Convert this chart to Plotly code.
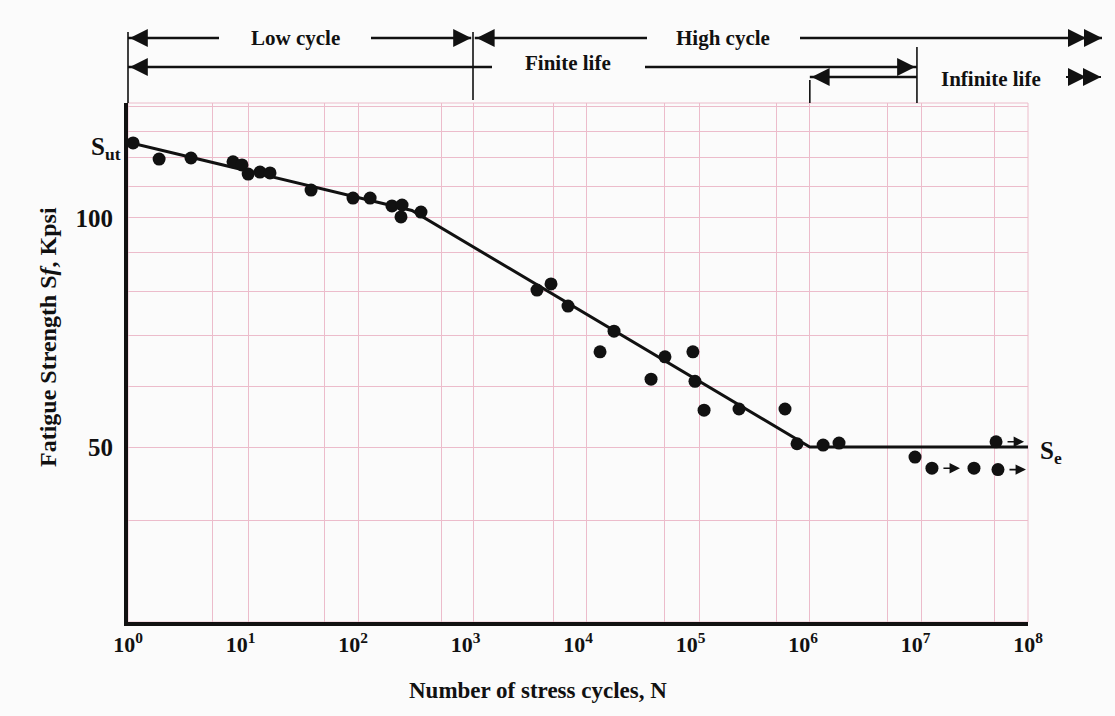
import numpy as np
import plotly.graph_objects as go

# Test results: cycles to failure and fatigue strength (kpsi)
cycles = [1.11, 1.89, 3.63, 8.58, 10.3, 11.7, 14.9, 18.3, 42.4, 100, 142,
          222, 273, 267, 402, 4320, 5755, 8150, 20900, 15700, 59300, 105000,
          44600, 109600, 132000, 270000, 692000, 885000, 1.51e6, 2.09e6,
          9.9e6, 1.40e7, 3.31e7, 5.41e7, 5.2e7]
strength = [125.5, 119.5, 119.9, 118.5, 117.4, 114.2, 114.9, 114.6, 108.8, 106.2, 106.2,
            103.7, 104.0, 100.3, 101.8, 80.4, 81.9, 76.6, 71.0, 66.7, 65.7, 66.7,
            61.4, 61.0, 55.9, 56.1, 56.1, 50.5, 50.3, 50.6,
            48.5, 46.9, 46.9, 46.7, 50.8]
# specimens that did not fail (run-outs)
runout_cycles = [1.40e7, 5.41e7, 5.2e7]
runout_strength = [46.9, 46.7, 50.8]

# idealised S-N curve
curve_cycles = [1, 334, 1.15e6, 1e8]
curve_strength = [125.8, 102.3, 50, 50]
S_ut = curve_strength[0]
S_e = curve_strength[-1]

x_tick_vals = [10 ** k for k in range(9)]
x_tick_text = [f"10<sup>{k}</sup>" for k in range(9)]
y_tick_vals = [50, 100]
y_tick_text = ["50", "100"]

x_grid = [5.58, 11.7, 55.3, 111, 618, 1166, 5997, 12020, 59300, 1.19e5,
          5.87e5, 1.15e6, 5.58e6, 1.12e7, 4.99e7, 1e8]
y_grid = [40, 60, 70, 80, 90, 110, 120, 130, 140]

# regime boundaries (cycles)
N_low_high = 1166
N_infinite = 1.15e6
N_finite_end = 1.03e7

W, H = 1115, 716
ML, MR, MT, MB = 128, 87, 103, 94
PW, PH = W - ML - MR, H - MT - MB

GRID = "#ecbccb"
INK = "#111111"
FONT = "Liberation Serif"


def xn(n):
    """paper x for a cycle count"""
    return np.log10(n) / 8.0


def xp(p):
    """paper x for a page column"""
    return (p - ML) / PW


def yp(p):
    """paper y for a page row"""
    return (MT + PH - p) / PH


fig = go.Figure()

fig.add_trace(go.Scatter(
    x=curve_cycles, y=curve_strength, mode="lines",
    line=dict(color=INK, width=3), hoverinfo="skip", showlegend=False))

fig.add_trace(go.Scatter(
    x=cycles, y=strength, mode="markers",
    marker=dict(color=INK, size=13), showlegend=False, cliponaxis=False))

shapes = []
annotations = []

# plot frame (pink on top and right)
shapes.append(dict(type="rect", xref="paper", yref="paper", x0=0, x1=1, y0=0, y1=1,
                   line=dict(color=GRID, width=1), layer="below"))

# run-out arrows
for n, s in zip(runout_cycles, runout_strength):
    annotations.append(dict(x=np.log10(n), y=np.log10(s), xref="x", yref="y", text="",
                            showarrow=True, ax=-18, ay=0, xshift=28, arrowhead=2,
                            arrowsize=1.3, arrowwidth=1.6, arrowcolor=INK))


def hline(x0, x1, y, w=2.4):
    shapes.append(dict(type="line", xref="paper", yref="paper", x0=x0, x1=x1,
                       y0=y, y1=y, line=dict(color=INK, width=w)))


def vline(x, y0, y1, w=1.6):
    shapes.append(dict(type="line", xref="paper", yref="paper", x0=x, x1=x,
                       y0=y0, y1=y1, line=dict(color=INK, width=w)))


def head(x, y, direction):
    annotations.append(dict(x=x, y=y, xref="paper", yref="paper", text="",
                            showarrow=True, ax=-10 * direction, ay=0, arrowhead=2,
                            arrowsize=1.5, arrowwidth=2.4, arrowcolor=INK))


def label(x, y, txt, size=21, angle=0):
    annotations.append(dict(x=x, y=y, xref="paper", yref="paper", text=f"<b>{txt}</b>",
                            showarrow=False, xanchor="center", yanchor="middle",
                            textangle=angle,
                            font=dict(family=FONT, size=size, color=INK)))


r1, r2, r3 = yp(38), yp(67), yp(77)

# boundary ticks
vline(xn(1), yp(32), 1)
vline(xn(N_low_high), yp(32), yp(100))
vline(xn(N_finite_end), yp(47), 1)
vline(xn(N_infinite), yp(80), 1)

# row 1: low cycle / high cycle
hline(xn(1), xp(219), r1)
head(xn(1) + 0.002, r1, -1)
label(xp(295), r1, "Low cycle")
hline(xp(371), xn(N_low_high) - 0.002, r1)
head(xn(N_low_high) - 0.002, r1, 1)
hline(xn(N_low_high) + 0.002, xp(647), r1)
head(xn(N_low_high) + 0.004, r1, -1)
label(xp(723), r1, "High cycle")
hline(xp(800), xp(1102), r1)
head(xp(1086), r1, 1)
head(xp(1102), r1, 1)

# row 2: finite life
hline(xn(1), xp(492), r2)
head(xn(1) + 0.002, r2, -1)
label(xp(568), yp(63), "Finite life")
hline(xp(645), xn(N_finite_end), r2)
head(xn(N_finite_end) - 0.002, r2, 1)

# row 3: infinite life
hline(xn(N_infinite), xn(N_finite_end), r3)
head(xn(N_infinite) + 0.002, r3, -1)
label(xp(991), yp(79), "Infinite life")
hline(xp(1066), xp(1101), r3, w=2)
head(xp(1086), r3, 1)
head(xp(1101), r3, 1)

# S_ut and S_e labels
annotations.append(dict(x=0, y=np.log10(S_ut), xref="paper", yref="y",
                        text="<b>S<sub>ut</sub></b>", showarrow=False, xanchor="right",
                        yanchor="middle", xshift=-5, yshift=-6,
                        font=dict(family=FONT, size=25, color=INK)))
annotations.append(dict(x=1, y=np.log10(S_e), xref="paper", yref="y",
                        text="<b>S<sub>e</sub></b>", showarrow=False, xanchor="left",
                        yanchor="middle", xshift=10, yshift=-5,
                        font=dict(family=FONT, size=25, color=INK)))

# axis titles
label(xp(538), yp(690), "Number of stress cycles, N", size=23)
label(xp(48), yp(337), "Fatigue Strength S<i>f</i>, Kpsi", size=24, angle=-90)

fig.update_layout(
    width=W, height=H,
    margin=dict(l=ML, r=MR, t=MT, b=MB),
    paper_bgcolor="#fbfbfb", plot_bgcolor="#fbfbfb",
    shapes=shapes, annotations=annotations,
    font=dict(family=FONT, color=INK),
)

fig.update_xaxes(
    type="log", range=[0, 8],
    tickmode="array", tickvals=x_tick_vals, ticktext=[f"<b>{t}</b>" for t in x_tick_text],
    tickfont=dict(family=FONT, size=22, color=INK),
    ticks="", showgrid=False, zeroline=False,
    showline=True, linecolor=INK, linewidth=4,
    minor=dict(tickmode="array", tickvals=x_grid, showgrid=True,
               gridcolor=GRID, gridwidth=1, ticks=""),
)
fig.update_yaxes(
    type="log", range=[np.log10(29.45), np.log10(141.6)],
    tickmode="array", tickvals=y_tick_vals, ticktext=[f"<b>{t}</b>" for t in y_tick_text],
    tickfont=dict(family=FONT, size=25, color=INK),
    ticks="", showgrid=True, gridcolor=GRID, gridwidth=1, zeroline=False,
    ticklabelstandoff=6,
    showline=True, linecolor=INK, linewidth=4,
    minor=dict(tickmode="array", tickvals=y_grid, showgrid=True,
               gridcolor=GRID, gridwidth=1, ticks=""),
)

fig.write_html("out.html")
